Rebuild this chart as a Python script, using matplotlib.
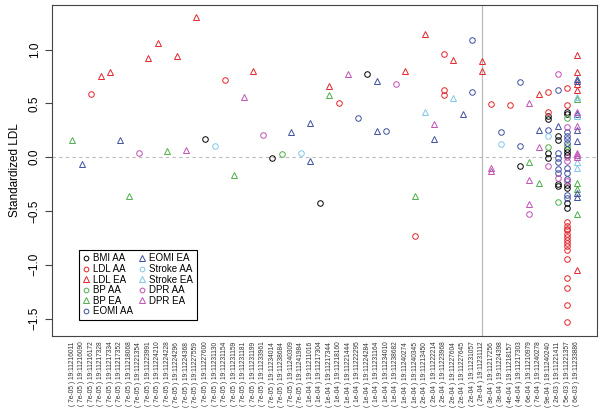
import matplotlib
matplotlib.use("Agg")
import matplotlib.pyplot as plt

plt.rcParams["font.family"] = ["Liberation Sans", "DejaVu Sans"]

# SNPs along the x axis, ordered by p-value
pvals = (["7e-05"] * 25 + ["1e-04"] * 12 + ["2e-04"] * 7 + ["3e-04"] * 2 + ["4e-04"] * 2
         + ["6e-04", "7e-04", "9e-04", "2e-03", "5e-03", "6e-03"])
snps = [
    "11216011", "11216090", "11216172", "11217328", "11217334", "11217352", "11218068",
    "11221354", "11223991", "11224210", "11224228", "11224296", "11224368", "11227559",
    "11227600", "11231130", "11231154", "11231159", "11231181", "11231199", "11233961",
    "11234014", "11238684", "11240309", "11241984",
    "11211016", "11217304", "11217344", "11218160", "11221444", "11222295", "11224284",
    "11231164", "11234010", "11238682", "11240274", "11240345",
    "11213450", "11222214", "11223968", "11227604", "11227645", "11231057", "11231112",
    "11217256", "11224398", "11218157", "11217303",
    "11210979", "11240278", "11240240", "11221411", "11221357", "11233886",
]
tick_labels = [f"( {p} ) 19:{s}" for p, s in zip(pvals, snps)]

# position on the x axis (1-based SNP index) and standardized effect, per trait/ancestry
bmi_aa_x = [15, 22, 27, 32, 48, 51, 51, 51, 51, 52, 52, 52, 52,
            53, 53, 53, 53, 53, 53, 53, 53, 53]
bmi_aa_y = [0.17, -0.01, -0.43, 0.77, -0.08, 0.38, 0.35, 0.04, -0.01, 0.195, 0.155, -0.25, -0.27,
            0.42, 0.40, 0.08, 0.05, 0.02, -0.26, -0.29, -0.43, -0.47]

ldl_aa_x = [3, 17, 29, 37, 40, 40, 40, 45, 47, 51, 51,
            53, 53, 53, 53, 53, 53, 53, 53, 53, 53, 53, 53, 53, 53, 53, 53, 53]
ldl_aa_y = [0.59, 0.72, 0.505, -0.73, 0.96, 0.62, 0.575, 0.49, 0.48, 0.605, 0.42,
            0.64, 0.48, -0.60, -0.64, -0.67, -0.71, -0.74, -0.77, -0.80, -0.83, -0.86,
            -0.95, -1.12, -1.22, -1.37, -1.53, -0.68]

ldl_ea_x = [4, 5, 9, 10, 12, 14, 20, 28, 36, 38, 41, 44, 44, 50, 54, 54, 54, 54, 54]
ldl_ea_y = [0.75, 0.79, 0.92, 1.06, 0.94, 1.30, 0.80, 0.66, 0.80, 1.14, 0.90, 0.89, 0.80,
            0.585, 0.945, 0.79, 0.62, 0.68, -1.05]

bp_aa_x = [23, 51, 52, 53, 53]
bp_aa_y = [0.025, 0.09, -0.42, 0.36, 0.10]

bp_ea_x = [1, 7, 11, 18, 28, 37, 49, 50, 54, 54, 54, 54]
bp_ea_y = [0.16, -0.36, 0.06, -0.17, 0.58, -0.36, -0.05, -0.24, 0.54, -0.24, -0.30, -0.53]

eomi_aa_x = [31, 34, 43, 43, 46, 48, 48, 51, 52, 52, 52, 52, 52, 52,
             53, 53, 53, 53, 53, 53, 53, 53, 53]
eomi_aa_y = [0.36, 0.245, 1.09, 0.605, 0.23, 0.695, 0.10, 0.25, 0.62, 0.04, -0.01, -0.05, -0.11, -0.15,
             0.23, 0.20, 0.17, 0.13, -0.10, -0.15, -0.20, -0.35, -0.38]

eomi_ea_x = [2, 6, 24, 26, 26, 33, 33, 39, 42, 50, 52, 54, 54, 54, 54, 54, 54, 54]
eomi_ea_y = [-0.065, 0.16, 0.235, 0.315, -0.04, 0.71, 0.24, 0.17, 0.405, 0.255, 0.29,
             0.73, 0.71, 0.40, 0.25, 0.15, -0.33, -0.37]

stroke_aa_x = [16, 25, 46, 51]
stroke_aa_y = [0.10, 0.04, 0.125, 0.195]

stroke_ea_x = [38, 41, 54, 54, 54, 54]
stroke_ea_y = [0.42, 0.55, 0.56, 0.38, -0.05, -0.10]

dpr_aa_x = [8, 21, 35, 49, 51, 52, 52, 53, 53, 53, 53]
dpr_aa_y = [0.035, 0.21, 0.675, -0.53, -0.085, 0.77, -0.19, 0.28, 0.0, -0.04, -0.22]

dpr_ea_x = [13, 19, 30, 39, 45, 45, 49, 49, 49, 50, 54, 54, 54, 54, 54]
dpr_ea_y = [0.065, 0.56, 0.775, 0.305, -0.105, -0.125, 0.505, -0.21, -0.44, 0.09,
            0.42, 0.29, 0.04, 0.02, 0.0]

RED = "#e3242b"
GREEN = "#4daf4a"
NAVY = "#3f4f9f"
SKY = "#80c8e6"
MAGENTA = "#c04fb4"

series = [
    ("BMI AA", bmi_aa_x, bmi_aa_y, "black", "o"),
    ("LDL AA", ldl_aa_x, ldl_aa_y, RED, "o"),
    ("LDL EA", ldl_ea_x, ldl_ea_y, RED, "^"),
    ("BP AA", bp_aa_x, bp_aa_y, GREEN, "o"),
    ("BP EA", bp_ea_x, bp_ea_y, GREEN, "^"),
    ("EOMI AA", eomi_aa_x, eomi_aa_y, NAVY, "o"),
    ("EOMI EA", eomi_ea_x, eomi_ea_y, NAVY, "^"),
    ("Stroke AA", stroke_aa_x, stroke_aa_y, SKY, "o"),
    ("Stroke EA", stroke_ea_x, stroke_ea_y, SKY, "^"),
    ("DPR AA", dpr_aa_x, dpr_aa_y, MAGENTA, "o"),
    ("DPR EA", dpr_ea_x, dpr_ea_y, MAGENTA, "^"),
]

fig = plt.figure(figsize=(6.03, 4.15), dpi=100)
ax = fig.add_axes([0.0862, 0.190, 0.904, 0.798])

ax.axhline(0, color="#bbbbbb", lw=0.8, ls=(0, (3, 3)), zorder=1)
ax.axvline(44, color="#bbbbbb", lw=0.9, zorder=1)

for name, xs, ys, col, mk in series:
    ax.plot(xs, ys, ls="none", marker=mk, ms=4.0 if mk == "o" else 5.0,
            mfc="none", mec=col, mew=0.7, label=name, zorder=3)

ax.set_xlim(-1.12, 56.12)
ax.set_ylim(-1.664, 1.414)
ax.set_xticks(range(1, len(tick_labels) + 1))
ax.set_xticklabels(tick_labels, rotation=90, fontsize=4.8, color="#333333")
ax.tick_params(axis="x", length=0, pad=4)
ax.set_yticks([-1.5, -1.0, -0.5, 0.0, 0.5, 1.0])
ax.set_yticklabels(["\u22121.5", "\u22121.0", "\u22120.5", "0.0", "0.5", "1.0"])
ax.tick_params(axis="y", labelsize=8.5, length=5, width=0.8, color="#444444", pad=3)
for lab in ax.get_yticklabels():
    lab.set_rotation(90)
    lab.set_va("center")
ax.set_ylabel("Standardized LDL", fontsize=8.5, labelpad=6)
for sp in ax.spines.values():
    sp.set_color("#444444")
    sp.set_linewidth(0.8)

leg = ax.legend(loc="lower left", bbox_to_anchor=(0.049, 0.048), borderaxespad=0,
                ncol=2, fontsize=7, frameon=True, fancybox=False, framealpha=1,
                edgecolor="black", handlelength=0.7, handletextpad=0.4,
                columnspacing=0.5, labelspacing=0.06, borderpad=0.4,
                markerscale=0.85)
leg.get_frame().set_linewidth(0.8)

fig.savefig("out.png", dpi=100)
